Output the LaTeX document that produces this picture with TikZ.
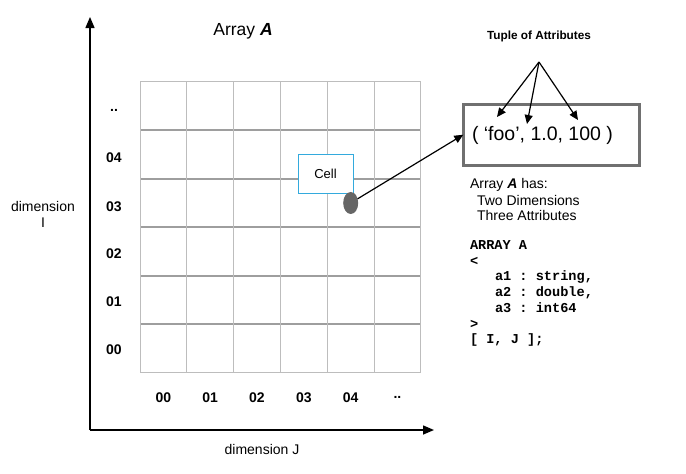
\documentclass[tikz,border=0pt]{standalone}
\usepackage{fontspec}
\setmainfont{Liberation Sans}
\setmonofont{Liberation Mono}
\usetikzlibrary{arrows.meta,shapes.geometric}
\definecolor{gridlight}{HTML}{BDBDBD}
\definecolor{griddark}{HTML}{9E9E9E}
\definecolor{boxgray}{HTML}{707070}
\definecolor{cellblue}{HTML}{33AADD}
\definecolor{dotgray}{HTML}{666666}
\begin{document}
\begin{tikzpicture}[x=1pt,y=-1pt,
  every node/.style={inner sep=0pt,outer sep=0pt},
  gridv/.style={draw=gridlight,line width=1pt},
  gridh/.style={draw=griddark,line width=1.6pt},
  axis/.style={draw=black,line width=1.5pt,-{Triangle[length=11pt,width=9pt]}},
  lbl/.style={font=\fontsize{14}{16}\selectfont\bfseries},
  txt/.style={font=\fontsize{14}{16}\selectfont},
  codeline/.style={font=\fontsize{13.6}{15}\selectfont\ttfamily\bfseries,anchor=west},
  pointer/.style={draw=black,line width=1.2pt,-{Triangle[length=9pt,width=8pt]}}]
\useasboundingbox (0,0) rectangle (686,474);
% grid
\foreach \j in {1,...,5} \draw[gridh] (140,{81.7+\j*48.5}) -- (420.8,{81.7+\j*48.5});
\foreach \i in {0,...,6} \draw[gridv] ({140+\i*46.8},81.7) -- ({140+\i*46.8},372.7);
\draw[gridv] (140,81.7) -- (420.8,81.7);
\draw[gridv] (140,372.7) -- (420.8,372.7);
% axes
\coordinate (origin) at (90,430);
\coordinate (ytip) at (90,17);
\coordinate (xtip) at (434,430);
\draw[axis] (origin) -- (ytip);
\draw[axis] (origin) -- (xtip);
% title
\node[font=\fontsize{17.5}{20}\selectfont] (title) at (243,31.5) {Array \textbf{\textit{A}}};
% row labels
\node[lbl] (r5) at (114,110) {..};
\node[lbl] (r4) at (114,157.5) {04};
\node[lbl] (r3) at (114,207) {03};
\node[lbl] (r2) at (114,253.5) {02};
\node[lbl] (r1) at (114,301.5) {01};
\node[lbl] (r0) at (114,350) {00};
% column labels
\node[lbl] (c0) at (163.4,397.5) {00};
\node[lbl] (c1) at (210.2,397.5) {01};
\node[lbl] (c2) at (257,397.5) {02};
\node[lbl] (c3) at (303.8,397.5) {03};
\node[lbl] (c4) at (350.6,397.5) {04};
\node[lbl] (c5) at (397.4,397.5) {..};
% axis labels
\node[txt,align=center] (dimI) at (43,214) {dimension\\I};
\node[txt] (dimJ) at (262,449) {dimension J};
% cell
\node[draw=cellblue,fill=white,line width=1pt,minimum width=55pt,minimum height=39pt,
  font=\fontsize{13}{15}\selectfont] (cell) at (325.5,173.5) {Cell};
\node[ellipse,fill=dotgray,minimum width=15pt,minimum height=22pt] (dot) at (350.7,203) {};
% tuple box
\node[draw=boxgray,line width=3pt,minimum width=176pt,minimum height=61pt] (tuple) at (551.3,134.7) {};
\node[font=\fontsize{19.5}{22}\selectfont,anchor=west] (tupletext) at (472,135) {( ‘foo’, 1.0, 100 )};
\draw[pointer] (dot) -- (tuple.west);
% tuple of attributes
\node[font=\fontsize{11.8}{14}\selectfont\bfseries] (toa) at (539,36.5) {Tuple of Attributes};
\coordinate (fork) at (539,62);
\coordinate (e1) at (497,117);
\coordinate (e2) at (527,124);
\coordinate (e3) at (578,120);
\draw[pointer] (fork) -- (e1);
\draw[pointer] (fork) -- (e2);
\draw[pointer] (fork) -- (e3);
% description
\node[txt,anchor=west] (has) at (470,185) {Array \textbf{\textit{A}} has:};
\node[txt,anchor=west] (twod) at (477,200) {Two Dimensions};
\node[txt,anchor=west] (threea) at (477,215.5) {Three Attributes};
% code
\node[codeline] (k1) at (470,245) {ARRAY A};
\node[codeline] (k2) at (470,261) {<};
\node[codeline] (k3) at (495,277) {a1 : string,};
\node[codeline] (k4) at (495,292.5) {a2 : double,};
\node[codeline] (k5) at (495,308) {a3 : int64};
\node[codeline] (k6) at (470,324) {>};
\node[codeline] (k7) at (470,340) {[ I, J ];};
\end{tikzpicture}
\end{document}
